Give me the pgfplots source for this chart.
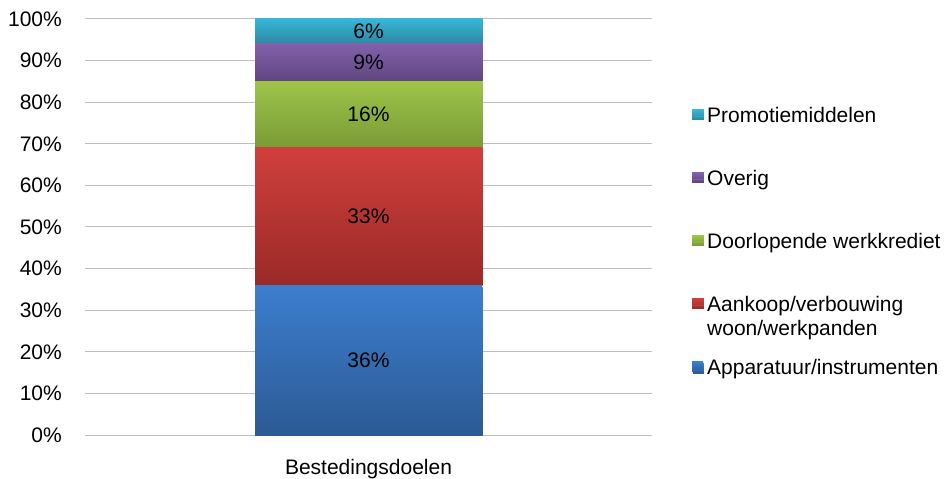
\documentclass[border=0pt]{standalone}
\usepackage{pgfplots}
\pgfplotsset{compat=1.18}
\usepackage{fontspec}
\setmainfont{Liberation Sans}
\definecolor{bluetop}{HTML}{3C7ECE}
\definecolor{bluebot}{HTML}{2C5A94}
\definecolor{redtop}{HTML}{D03F3C}
\definecolor{redbot}{HTML}{992A28}
\definecolor{greentop}{HTML}{9EC548}
\definecolor{greenbot}{HTML}{7A9A37}
\definecolor{purpletop}{HTML}{8261AA}
\definecolor{purplebot}{HTML}{5E4580}
\definecolor{cyantop}{HTML}{38B6D7}
\definecolor{cyanbot}{HTML}{2A88A3}
\definecolor{gridgray}{HTML}{BFBFBF}
\tikzset{
  shadowbottom/.style={preaction={fill=black!28, transform canvas={xshift=0.8pt,yshift=-1.8pt}}},
  shadowside/.style={preaction={fill=black!12, transform canvas={xshift=0.8pt}}},
}
\begin{document}
\fontsize{21}{24}\selectfont
\begin{tikzpicture}
\useasboundingbox (-85pt,-44pt) rectangle (863pt,435pt);
\begin{axis}[
  at={(0pt,0pt)}, anchor=south west,
  scale only axis,
  width=567pt, height=416pt,
  ybar stacked,
  bar width=0.4,
  xmin=0.5, xmax=1.5,
  ymin=0, ymax=100,
  xtick={1}, xticklabels={Bestedingsdoelen},
  ytick={0,10,...,100},
  yticklabel={\pgfmathprintnumber{\tick}\%},
  /pgf/number format/assume math mode=true,
  ymajorgrids,
  grid style={gridgray, line width=1pt},
  axis line style={draw=none},
  major tick length=0pt,
  tick style={draw=none},
  yticklabel style={anchor=east, inner sep=0pt, xshift=-23pt},
  xticklabel style={anchor=base, inner sep=0pt, yshift=-39.5pt},
  reverse legend,
  legend cell align=left,
  legend style={
    at={(rel axis cs:1.0705,0.791)}, anchor=north west,
    draw=none, fill=none, inner sep=0pt,
    row sep=42pt, column sep=0pt,
    nodes={inner sep=0pt, text height=16pt, text depth=5pt},
  },
  legend image code/.code={
    \begin{scope}[shadowbottom/.style={}, shadowside/.style={}]
    \path[#1] (0pt,-3pt) rectangle (11pt,7pt);
    \path (0pt,0pt) -- (15pt,0pt);
    \end{scope}
  },
  nodes near coords={\pgfmathprintnumber{\pgfplotspointmeta}\%},
  every node near coord/.style={anchor=center, text=black},
]
\addplot[draw=none, top color=bluetop, bottom color=bluebot, shadowbottom]
  coordinates {(1,36)};
\addlegendentry{Apparatuur/instrumenten}
\addplot[draw=none, top color=redtop, bottom color=redbot, shadowside]
  coordinates {(1,33)};
\addlegendentry{\begin{tabular}[t]{@{}l@{}}Aankoop/verbouwing\\woon/werkpanden\end{tabular}}
\addplot[draw=none, top color=greentop, bottom color=greenbot, shadowside]
  coordinates {(1,16)};
\addlegendentry{Doorlopende werkkrediet}
\addplot[draw=none, top color=purpletop, bottom color=purplebot, shadowside]
  coordinates {(1,9)};
\addlegendentry{Overig}
\addplot[draw=none, top color=cyantop, bottom color=cyanbot, shadowside]
  coordinates {(1,6)};
\addlegendentry{Promotiemiddelen}
\end{axis}
\end{tikzpicture}
\end{document}
